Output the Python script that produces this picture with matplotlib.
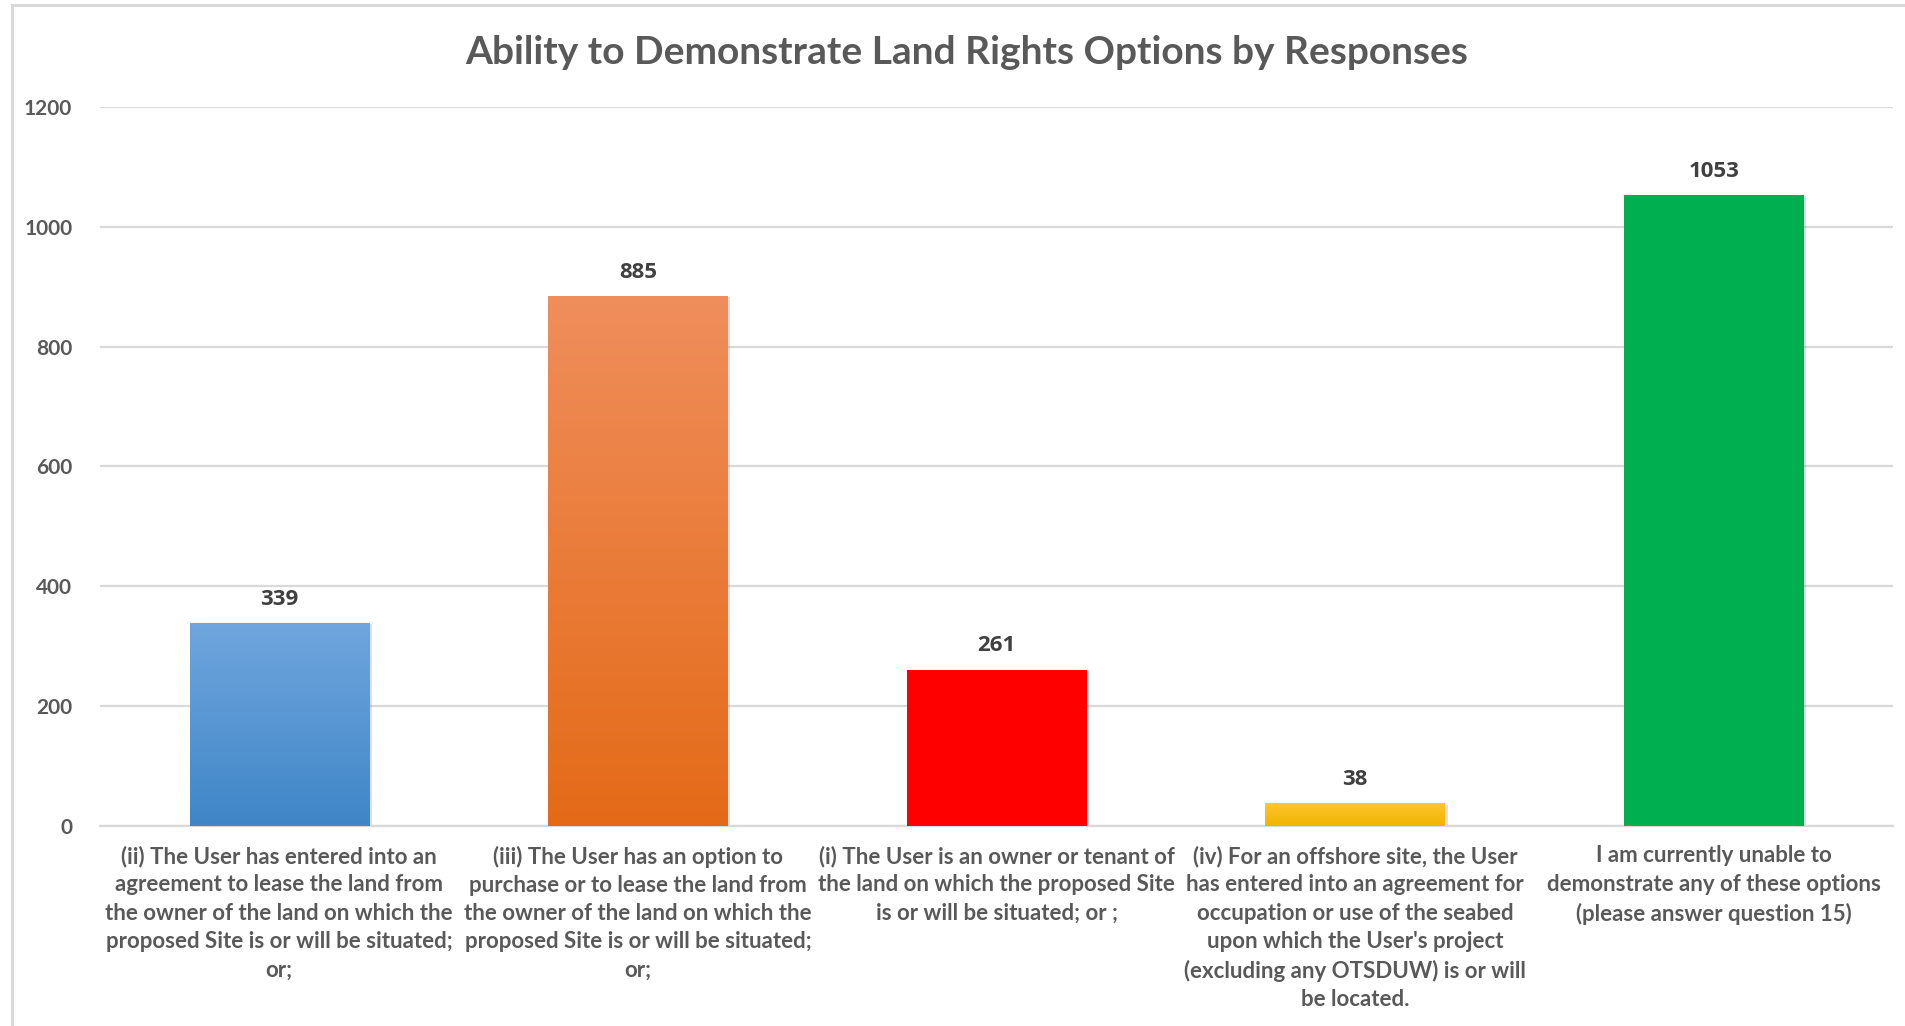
import numpy as np
import matplotlib
matplotlib.use("Agg")
import matplotlib.pyplot as plt
from matplotlib.colors import LinearSegmentedColormap
from matplotlib.lines import Line2D
import matplotlib.patheffects as pe

# data
categories = [
    "(ii) The User has entered into an\nagreement to lease the land from\nthe owner of the land on which the\nproposed Site is or will be situated;\nor;",
    "(iii) The User has an option to\npurchase or to lease the land from\nthe owner of the land on which the\nproposed Site is or will be situated;\nor;",
    "(i) The User is an owner or tenant of\nthe land on which the proposed Site\nis or will be situated; or ;",
    "(iv) For an offshore site, the User\nhas entered into an agreement for\noccupation or use of the seabed\nupon which the User's project\n(excluding any OTSDUW) is or will\nbe located.",
    "I am currently unable to\ndemonstrate any of these options\n(please answer question 15)",
]
responses = [339, 885, 261, 38, 1053]
y_ticks = [0, 200, 400, 600, 800, 1000, 1200]

# top / bottom colours of each bar (gradient fill like the Excel original)
bar_top = ["#70a6de", "#f08e5c", "#ff0000", "#ffc630", "#00b050"]
bar_bottom = ["#3f86c7", "#e46a17", "#ff0000", "#f0b400", "#00b050"]

grey = "#595959"
grid_col = "#d9d9d9"

fig = plt.figure(figsize=(19.05, 10.26), dpi=100)
ax = fig.add_axes([100 / 1905, 1 - 826 / 1026, 1793 / 1905, (826 - 107) / 1026])

x = np.arange(len(responses))
bars = ax.bar(x, responses, width=0.5, color="none", zorder=3)

for b, top, bot, val in zip(bars, bar_top, bar_bottom, responses):
    x0, w, h = b.get_x(), b.get_width(), b.get_height()
    # soft shadow behind the bar
    ax.bar(x0 + w / 2, h, width=w, color="white", zorder=2,
           path_effects=[pe.SimplePatchShadow(offset=(2, -1), alpha=0.25, shadow_rgbFace="#808080")])
    cmap = LinearSegmentedColormap.from_list("g", [bot, top])
    grad = np.linspace(0, 1, 256).reshape(-1, 1)
    im = ax.imshow(grad, cmap=cmap, aspect="auto", origin="lower",
                   extent=[x0, x0 + w, 0, h], zorder=3)
    im.set_clip_path(b)
    ax.text(x0 + w / 2, h + 22, str(val), ha="center", va="bottom",
            fontsize=16, fontweight="bold", color="#404040", family="Open Sans", zorder=4)

ax.set_xlim(-0.5, len(responses) - 0.5)
ax.set_ylim(0, 1200)
ax.set_yticks(y_ticks)
ax.set_yticklabels([str(t) for t in y_ticks], fontsize=15, color=grey, family="Lato", fontweight="bold")
ax.tick_params(axis="y", length=0, pad=20)
ax.set_xticks(x)
ax.set_xticklabels(categories, fontsize=16, color=grey, family="Lato", fontweight="bold",
                   linespacing=1.43, va="top")
ax.tick_params(axis="x", length=0, pad=14)
ax.grid(axis="y", color=grid_col, linewidth=1.6, zorder=0)
for s in ["top", "right", "left"]:
    ax.spines[s].set_visible(False)
ax.spines["bottom"].set_color(grid_col)
ax.spines["bottom"].set_linewidth(1.6)

fig.text(967 / 1905, 1 - 52 / 1026, "Ability to Demonstrate Land Rights Options by Responses",
         ha="center", va="center", fontsize=28, fontweight="bold", color=grey, family="Lato")

# chart border (left and top edges visible)
fig.add_artist(Line2D([12 / 1905, 12 / 1905], [0, 1 - 5 / 1026], color=grid_col, linewidth=2.2))
fig.add_artist(Line2D([12 / 1905, 1], [1 - 5 / 1026, 1 - 5 / 1026], color=grid_col, linewidth=2.2))

fig.savefig("out.png", dpi=100, facecolor="white")
